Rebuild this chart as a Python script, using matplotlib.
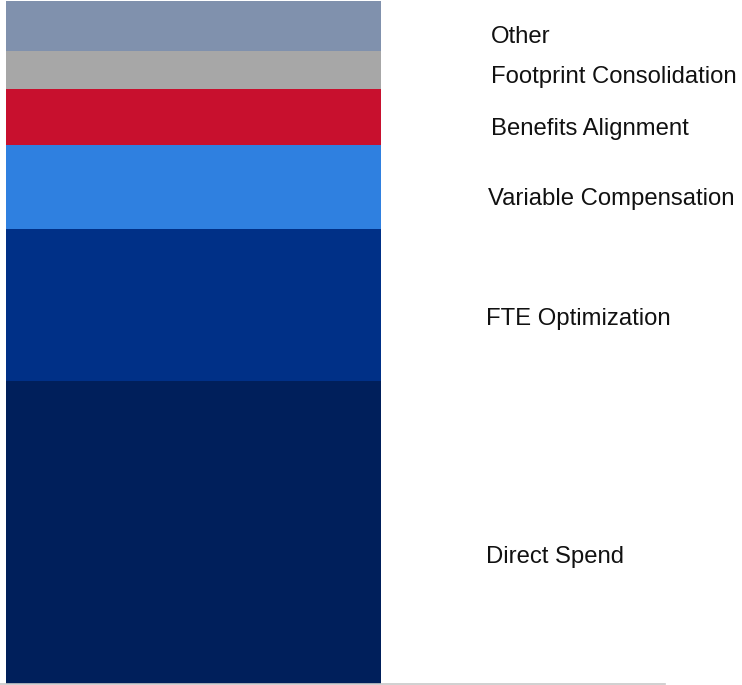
import matplotlib
matplotlib.use("Agg")
import matplotlib.pyplot as plt
from matplotlib.transforms import blended_transform_factory

# Data (bottom to top)
categories = ["Direct Spend", "FTE Optimization", "Variable Compensation",
              "Benefits Alignment", "Footprint Consolidation", "Other"]
values = [40.0, 20.1, 11.1, 7.4, 5.0, 6.6]
colors = ["#001f5b", "#003087", "#2f80e0", "#c8102e", "#a7a7a7", "#8091ad"]

# label styling (pixel positions / offsets)
label_x_px = [486, 486, 488, 491, 491, 491]
label_dy_px = [24, 14, 12, 12, 7, 11]

W, H = 742, 685
fig = plt.figure(figsize=(W / 100, H / 100), dpi=100)
plt.rcParams["font.family"] = ["Liberation Sans", "DejaVu Sans"]

total = sum(values)
bar_px_h = 683.0
ax = fig.add_axes([0, 1 - 684 / H, 665 / W, 684 / H])
ax.set_ylim(0, total * 684 / bar_px_h)
bar_w = 0.8
px_per_x = 375 / bar_w
left = -bar_w / 2 - 6 / px_per_x
ax.set_xlim(left, left + 665 / px_per_x)

bottom = 0
px_per_unit = bar_px_h / total
trans = blended_transform_factory(fig.transFigure, ax.transData)
for cat, v, c, lx, dy in zip(categories, values, colors, label_x_px, label_dy_px):
    ax.bar(0, v, width=bar_w, bottom=bottom, color=c, linewidth=0)
    yc = bottom + v / 2 - dy / px_per_unit
    ax.text(lx / W, yc, cat, transform=trans, fontsize=17.2, color="#111111",
            va="center", ha="left", clip_on=False)
    bottom += v

for s in ["top", "right", "left"]:
    ax.spines[s].set_visible(False)
ax.spines["bottom"].set_color("#c8c8c8")
ax.spines["bottom"].set_linewidth(1.2)
ax.set_xticks([])
ax.set_yticks([])
ax.patch.set_alpha(0)

fig.savefig("out.png", dpi=100)
